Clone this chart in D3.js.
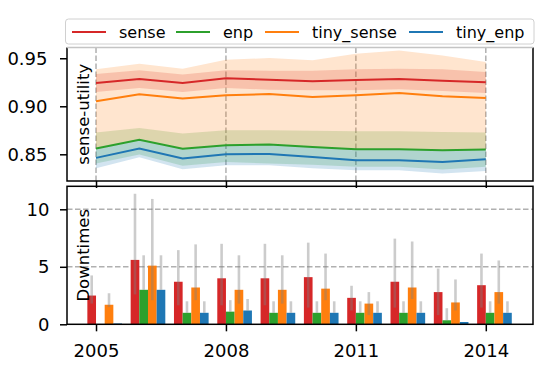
<!DOCTYPE html>
<html>
<head>
<meta charset="utf-8">
<script src="https://cdn.jsdelivr.net/npm/d3@7"></script>
<style>
  body { margin: 0; background: #fff; }
  svg { font-family: "DejaVu Sans", sans-serif; }
</style>
</head>
<body>
<svg id="chart"></svg>
<script>
// --- data ---
var years = [2005, 2006, 2007, 2008, 2009, 2010, 2011, 2012, 2013, 2014]
var tickYears = [2005, 2008, 2011, 2014]

var senseU      = [0.9242, 0.9284, 0.9242, 0.9291, 0.9277, 0.9260, 0.9274, 0.9284, 0.9267, 0.9250]
var senseLo     = [0.9149, 0.9190, 0.9149, 0.9190, 0.9173, 0.9166, 0.9166, 0.9177, 0.9160, 0.9138]
var senseHi     = [0.9336, 0.9374, 0.9330, 0.9374, 0.9370, 0.9370, 0.9385, 0.9392, 0.9385, 0.9357]
var enpU        = [0.8560, 0.8650, 0.8557, 0.8595, 0.8602, 0.8577, 0.8553, 0.8553, 0.8543, 0.8550]
var enpLo       = [0.8404, 0.8498, 0.8380, 0.8421, 0.8404, 0.8390, 0.8370, 0.8370, 0.8342, 0.8370]
var enpHi       = [0.8727, 0.8775, 0.8716, 0.8750, 0.8750, 0.8744, 0.8740, 0.8740, 0.8733, 0.8727]
var tinySenseU  = [0.9052, 0.9125, 0.9080, 0.9114, 0.9128, 0.9097, 0.9114, 0.9138, 0.9104, 0.9086]
var tinySenseLo = [0.8560, 0.8650, 0.8557, 0.8595, 0.8602, 0.8577, 0.8553, 0.8553, 0.8543, 0.8550]
var tinySenseHi = [0.9385, 0.9444, 0.9392, 0.9485, 0.9502, 0.9478, 0.9548, 0.9582, 0.9530, 0.9460]
var tinyEnpU    = [0.8463, 0.8560, 0.8456, 0.8501, 0.8504, 0.8473, 0.8439, 0.8439, 0.8421, 0.8449]
var tinyEnpLo   = [0.8355, 0.8470, 0.8345, 0.8385, 0.8385, 0.8355, 0.8335, 0.8335, 0.8300, 0.8327]
var tinyEnpHi   = [0.8560, 0.8650, 0.8557, 0.8595, 0.8602, 0.8577, 0.8553, 0.8553, 0.8543, 0.8550]

var downSense      = [2.5, 5.6, 3.7, 4.0, 4.0, 4.1, 2.3, 3.7, 2.8, 3.4]
var downSenseLo    = [1.8, 2.6, 1.65, 1.65, 1.65, 1.45, 1.2, 1.45, 0.8, 1.45]
var downSenseHi    = [4.25, 11.35, 6.45, 7.0, 7.0, 7.1, 3.35, 7.45, 4.85, 6.15]
var downEnp        = [0, 3.0, 1.0, 1.1, 1.0, 1.0, 1.0, 1.0, 0.35, 1.0]
var downEnpHi      = [0, 6.0, 2.0, 2.1, 2.0, 2.0, 2.0, 2.0, 1.4, 2.0]
var downTiny       = [1.7, 5.1, 3.2, 3.0, 3.0, 3.1, 1.8, 3.2, 1.9, 2.8]
var downTinyLo     = [1.5, 2.1, 2.1, 1.8, 1.8, 2.1, 0.8, 2.2, 1.2, 1.8]
var downTinyHi     = [2.7, 10.9, 6.95, 6.0, 6.0, 6.15, 2.8, 7.2, 3.9, 5.55]
var downTinyEnp    = [0.07, 3.0, 1.0, 1.2, 1.0, 1.0, 1.0, 1.0, 0.2, 1.0]
var downTinyEnpHi  = [0.07, 6.0, 2.0, 2.2, 2.0, 2.0, 2.0, 2.0, 0.2, 2.0]

var names = ['sense', 'enp', 'tiny_sense', 'tiny_enp']
var colors = ['#d62728', '#2ca02c', '#ff7f0e', '#1f77b4']
var topTicks = [0.85, 0.90, 0.95]
var bottomTicks = [0, 5, 10]

var series = [
  {mean: senseU, lo: senseLo, hi: senseHi},
  {mean: enpU, lo: enpLo, hi: enpHi},
  {mean: tinySenseU, lo: tinySenseLo, hi: tinySenseHi},
  {mean: tinyEnpU, lo: tinyEnpLo, hi: tinyEnpHi}
]
var bars = [
  {v: downSense, lo: downSenseLo, hi: downSenseHi},
  {v: downEnp, lo: downEnp, hi: downEnpHi},
  {v: downTiny, lo: downTinyLo, hi: downTinyHi},
  {v: downTinyEnp, lo: downTinyEnp, hi: downTinyEnpHi}
]

var screen = {width: 550, height: 370}
var left = 67, right = 533

var svg = d3.select('#chart')
  .attr('width', screen.width)
  .attr('height', screen.height)

var xScale = d3.scaleLinear().domain([2004.33, 2015.09]).range([left, right])
var yTop = d3.scaleLinear().domain([0.8222, 0.9612]).range([181, 47.5])
var yBot = d3.scaleLinear().domain([0, 12]).range([324.3, 186.3])

svg.append('clipPath').attr('id', 'clipTop')
  .append('rect').attr('x', left).attr('y', yTop.range()[1])
  .attr('width', right - left).attr('height', yTop.range()[0] - yTop.range()[1])

// ---------- top panel ----------
var topG = svg.append('g')

topG.selectAll('.vgrid')
  .data(tickYears)
  .enter()
  .append('line')
  .attr('x1', function(d){return xScale(d)})
  .attr('x2', function(d){return xScale(d)})
  .attr('y1', yTop.range()[0])
  .attr('y2', yTop.range()[1])
  .attr('stroke', '#b0b0b0')
  .attr('stroke-width', 1.5)
  .attr('stroke-dasharray', '5.5,2.5')

var area = function(s){
  return d3.area()
    .x(function(d, i){return xScale(years[i])})
    .y0(function(d, i){return yTop(s.lo[i])})
    .y1(function(d, i){return yTop(s.hi[i])})(years)
}
var line = function(s){
  return d3.line()
    .x(function(d, i){return xScale(years[i])})
    .y(function(d, i){return yTop(s.mean[i])})(years)
}

var bandG = topG.append('g').attr('clip-path', 'url(#clipTop)')
series.forEach(function(s, i){
  bandG.append('path')
    .attr('d', area(s))
    .attr('fill', colors[i])
    .attr('fill-opacity', 0.2)
})
series.forEach(function(s, i){
  bandG.append('path')
    .attr('d', line(s))
    .attr('fill', 'none')
    .attr('stroke', colors[i])
    .attr('stroke-width', 2)
})

// frame (top edge sits under the translucent legend, so it shows grey)
var yt0 = yTop.range()[0], yt1 = yTop.range()[1]
topG.append('path')
  .attr('d', 'M' + left + ',' + yt1 + 'V' + yt0 + 'H' + right + 'V' + yt1)
  .attr('fill', 'none').attr('stroke', '#000').attr('stroke-width', 1.5)
topG.append('line')
  .attr('x1', left).attr('x2', right).attr('y1', yt1).attr('y2', yt1)
  .attr('stroke', '#c4c4c4').attr('stroke-width', 1.5)

var topYAxis = topG.append('g')
  .attr('transform', 'translate(' + left + ',0)')
  .call(d3.axisLeft(yTop).tickValues(topTicks).tickFormat(d3.format('.2f')).tickSize(7).tickPadding(12.5))
var topXAxis = topG.append('g')
  .attr('transform', 'translate(0,' + yt0 + ')')
  .call(d3.axisBottom(xScale).tickValues(tickYears).tickFormat('').tickSize(7))

topG.append('text')
  .attr('transform', 'translate(89,' + ((yt0 + yt1) / 2) + ') rotate(-90)')
  .attr('text-anchor', 'middle')
  .attr('font-size', '16.5px')
  .text('sense-utility')

// ---------- bottom panel ----------
var botG = svg.append('g')

botG.selectAll('.hgrid')
  .data([5, 10])
  .enter()
  .append('line')
  .attr('x1', left).attr('x2', right)
  .attr('y1', function(d){return yBot(d)})
  .attr('y2', function(d){return yBot(d)})
  .attr('stroke', '#b0b0b0')
  .attr('stroke-width', 1.5)
  .attr('stroke-dasharray', '5.5,2.5')

bars.forEach(function(b, k){
  botG.selectAll('.bar' + k)
    .data(b.v)
    .enter()
    .append('rect')
    .attr('x', function(d, i){return xScale(years[i] + (k - 1) * 0.2)})
    .attr('width', function(d, i){return xScale(years[i] + k * 0.2) - xScale(years[i] + (k - 1) * 0.2)})
    .attr('y', function(d){return yBot(d)})
    .attr('height', function(d){return yBot(0) - yBot(d)})
    .attr('fill', colors[k])
})
bars.forEach(function(b, k){
  botG.selectAll('.err' + k)
    .data(b.v)
    .enter()
    .append('line')
    .attr('x1', function(d, i){return xScale(years[i] + (k - 0.5) * 0.2)})
    .attr('x2', function(d, i){return xScale(years[i] + (k - 0.5) * 0.2)})
    .attr('y1', function(d, i){return yBot(b.lo[i])})
    .attr('y2', function(d, i){return yBot(b.hi[i])})
    .attr('stroke', '#808080')
    .attr('stroke-opacity', 0.4)
    .attr('stroke-width', 2.6)
})

botG.append('rect')
  .attr('x', left).attr('y', yBot.range()[1])
  .attr('width', right - left).attr('height', yBot.range()[0] - yBot.range()[1])
  .attr('fill', 'none').attr('stroke', '#000').attr('stroke-width', 1.5)

var botYAxis = botG.append('g')
  .attr('transform', 'translate(' + left + ',0)')
  .call(d3.axisLeft(yBot).tickValues(bottomTicks).tickSize(7).tickPadding(10.5))
var botXAxis = botG.append('g')
  .attr('transform', 'translate(0,' + yBot.range()[0] + ')')
  .call(d3.axisBottom(xScale).tickValues(tickYears).tickFormat(d3.format('d')).tickSize(7).tickPadding(12.5))

botG.append('text')
  .attr('transform', 'translate(89,' + ((yBot.range()[0] + yBot.range()[1]) / 2) + ') rotate(-90)')
  .attr('text-anchor', 'middle')
  .attr('font-size', '16.5px')
  .text('Downtimes')

// axis styling
;[topYAxis, topXAxis, botYAxis, botXAxis].forEach(function(a){
  a.select('.domain').remove()
  a.selectAll('line').attr('stroke', '#000').attr('stroke-width', 1.5)
  a.selectAll('text').attr('font-size', '18px').attr('fill', '#000')
    .attr('font-family', '"DejaVu Sans", sans-serif')
})

// ---------- legend ----------
var legend = svg.append('g')
legend.append('rect')
  .attr('x', 65.5).attr('y', 19)
  .attr('width', 468.5).attr('height', 25)
  .attr('rx', 3)
  .attr('fill', '#fff').attr('fill-opacity', 0.8)
  .attr('stroke', '#d0d0d0').attr('stroke-width', 1)
var colX = [72, 176, 265, 409]
names.forEach(function(n, i){
  legend.append('line')
    .attr('x1', colX[i]).attr('x2', colX[i] + 34)
    .attr('y1', 32).attr('y2', 32)
    .attr('stroke', colors[i]).attr('stroke-width', 2)
  legend.append('text')
    .attr('x', colX[i] + 47).attr('y', 38)
    .attr('font-size', '16px')
    .text(n)
})
</script>
</body>
</html>
